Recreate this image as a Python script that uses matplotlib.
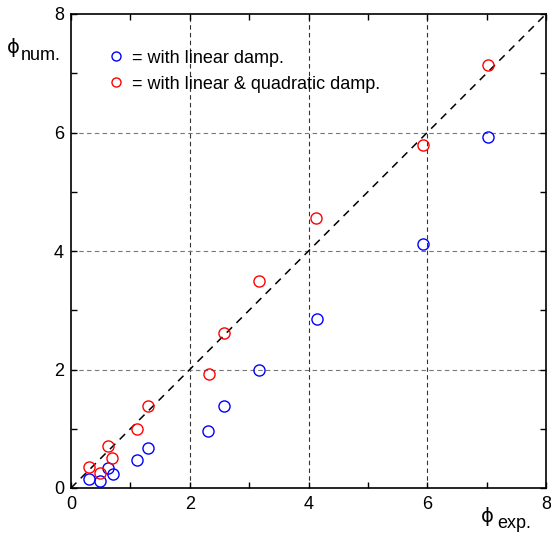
import matplotlib
matplotlib.use("Agg")
import matplotlib.pyplot as plt
from matplotlib.ticker import MultipleLocator
from matplotlib.lines import Line2D

plt.rcParams['font.family'] = ['Liberation Sans', 'DejaVu Sans']

# Data
x_exp = [0.30, 0.48, 0.63, 0.70, 1.11, 1.30, 2.31, 2.57, 3.16, 4.14, 5.93, 7.02]
phi_lin = [0.16, 0.12, 0.33, 0.23, 0.47, 0.67, 0.97, 1.39, 1.99, 2.86, 4.12, 5.92]
x_exp_q = [0.30, 0.48, 0.63, 0.69, 1.11, 1.30, 2.32, 2.57, 3.17, 4.13, 5.92, 7.02]
phi_quad = [0.35, 0.26, 0.71, 0.51, 0.99, 1.39, 1.93, 2.62, 3.49, 4.56, 5.79, 7.14]
major_ticks = [0, 2, 4, 6, 8]
legend_labels = ["= with linear damp.", "= with linear & quadratic damp."]

fig = plt.figure(figsize=(5.51, 5.33), dpi=100)
ax = fig.add_axes([71/551, 1-488/533, (546-71)/551, (488-14)/533])

ax.set_xlim(0, 8)
ax.set_ylim(0, 8)

# grid
for v in [2, 4, 6]:
    ax.axvline(v, color='#333333', lw=0.8, ls=(0, (4, 3)), zorder=1)
    ax.axhline(v, color='#777777', lw=0.8, ls=(0, (4, 3)), zorder=1)

ax.plot([0, 8], [0, 8], color='black', lw=1.1, ls=(0, (5, 4)), zorder=2)

ax.plot(x_exp, phi_lin, 'o', mfc='none', mec='blue', ms=8, mew=1.0, zorder=3)
ax.plot(x_exp_q, phi_quad, 'o', mfc='none', mec='red', ms=8, mew=1.0, zorder=3)

ax.xaxis.set_minor_locator(MultipleLocator(1))
ax.yaxis.set_minor_locator(MultipleLocator(1))
ax.set_xticks(major_ticks)
ax.set_yticks(major_ticks)
ax.tick_params(which='both', direction='in', top=True, right=True, length=4, width=1, labelsize=13)
ax.tick_params(axis='x', pad=6)
ax.tick_params(axis='y', pad=5)
for s in ax.spines.values():
    s.set_linewidth(1.2)

handles = [Line2D([], [], ls='none', marker='o', mfc='none', mec=c, ms=6.5, mew=1.0) for c in ['blue', 'red']]
ax.legend(handles, legend_labels, loc='upper left', bbox_to_anchor=(0.061, 0.94), frameon=False,
          fontsize=13, handlelength=1.0, handletextpad=0.4, labelspacing=0.5, borderaxespad=0)

fig.text(7/551, 1-53/533, "ϕ", fontsize=14, family=['DejaVu Sans'], va='baseline')
fig.text(21/551, 1-60/533, "num.", fontsize=13, va='baseline')
fig.text(481/551, 1-522/533, "ϕ", fontsize=14, family=['DejaVu Sans'], va='baseline')
fig.text(497/551, 1-528/533, "exp.", fontsize=13, va='baseline')

fig.savefig("out.png", dpi=100)
